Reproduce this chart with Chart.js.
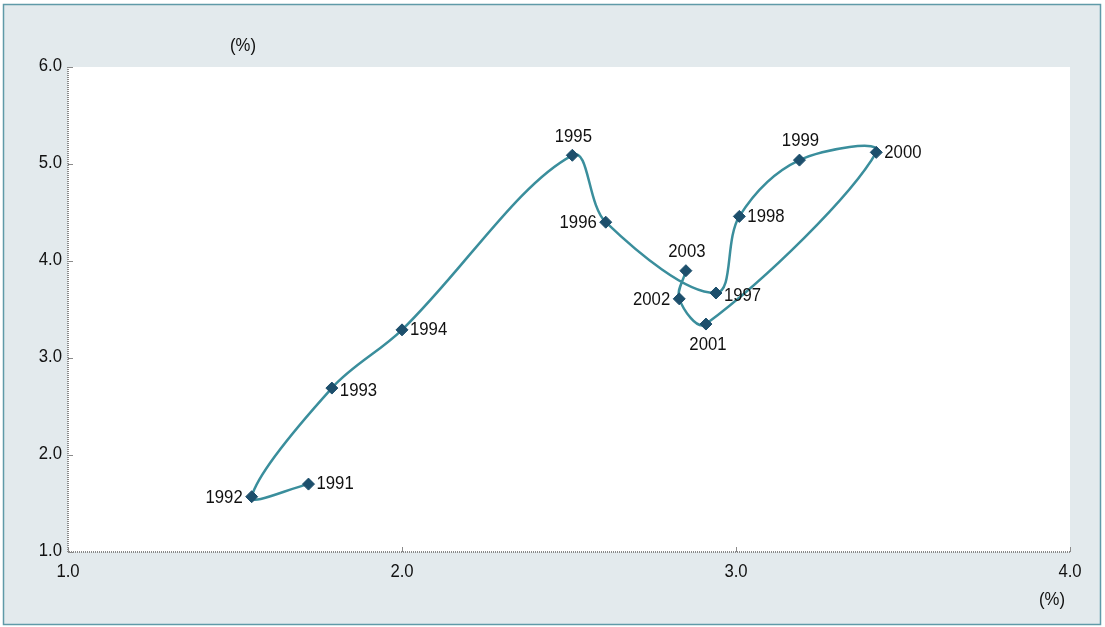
<!DOCTYPE html>
<html>
<head>
<meta charset="utf-8">
<script src="https://cdn.jsdelivr.net/npm/chart.js@4"></script>
<style>
  html, body { margin: 0; padding: 0; background: #ffffff; }
  #wrap { width: 1105px; height: 627px; }
</style>
</head>
<body>
<div id="wrap"><canvas id="chart" width="1105" height="627"></canvas></div>
<script>
// values, years in drawing order
const years = ["1991", "1992", "1993", "1994", "1995", "1996", "1997",
	"1998", "1999", "2000", "2001", "2002", "2003"];
const xValues = [1.72, 1.55, 1.79, 2.00, 2.51, 2.61, 2.94, 3.01, 3.19, 3.42, 2.91, 2.83, 2.85];
const yValues = [1.70, 1.57, 2.69, 3.29, 5.09, 4.40, 3.67, 4.46, 5.04, 5.12, 3.35, 3.61, 3.90];
const xTicks = [1.0, 2.0, 3.0, 4.0];
const yTicks = [1.0, 2.0, 3.0, 4.0, 5.0, 6.0];
// where each year label sits relative to its point
const labelPos = ["right", "left", "rightBelow", "right", "above", "left", "rightBelow",
	"right", "above", "right", "below", "left", "above"];

const FONT = "'Liberation Sans', Arial, sans-serif";
const points = xValues.map((x, i) => ({ x: x, y: yValues[i] }));

// the source uses a slightly condensed face: squeeze Liberation Sans horizontally
function drawText(ctx, text, x, y, align) {
	const sx = 0.88;
	ctx.save();
	ctx.font = "19px " + FONT;
	ctx.fillStyle = "#111111";
	ctx.textAlign = align;
	ctx.textBaseline = "middle";
	ctx.translate(x, y);
	ctx.scale(sx, 1);
	ctx.fillText(text, 0, 0);
	ctx.restore();
}

const framePlugin = {
	id: "frame",
	beforeDraw(chart) {
		const ctx = chart.ctx;
		const a = chart.chartArea;
		ctx.save();
		ctx.fillStyle = "#ffffff";
		ctx.fillRect(0, 0, chart.width, chart.height);
		ctx.fillStyle = "#e3eaed";
		ctx.fillRect(3, 4, 1098, 621);
		ctx.strokeStyle = "#5f9aa8";
		ctx.lineWidth = 1.5;
		ctx.strokeRect(3.5, 4.5, 1097, 620);
		ctx.fillStyle = "#ffffff";
		ctx.fillRect(a.left, a.top, a.right - a.left, a.bottom - a.top);
		ctx.restore();
	},
	afterDatasetsDraw(chart) {
		const ctx = chart.ctx;
		const a = chart.chartArea;
		const xs = chart.scales.x, ys = chart.scales.y;
		ctx.save();
		// dotted axis lines
		ctx.strokeStyle = "#8a8a8a";
		ctx.lineWidth = 2;
		ctx.setLineDash([1, 1]);
		ctx.beginPath();
		ctx.moveTo(a.left, a.top);
		ctx.lineTo(a.left, a.bottom);
		ctx.lineTo(a.right, a.bottom);
		ctx.stroke();
		ctx.setLineDash([]);
		ctx.lineWidth = 1;
		ctx.beginPath();
		yTicks.forEach(v => {
			const py = Math.round(ys.getPixelForValue(v)) + 0.5;
			ctx.moveTo(a.left, py);
			ctx.lineTo(a.left + 5, py);
		});
		xTicks.forEach(v => {
			const px = Math.round(xs.getPixelForValue(v)) + 0.5;
			ctx.moveTo(px, a.bottom);
			ctx.lineTo(px, a.bottom - 5);
		});
		ctx.stroke();
		ctx.restore();

		// tick labels
		yTicks.forEach(v => drawText(ctx, v.toFixed(1), a.left - 6, ys.getPixelForValue(v) - 1, "right"));
		xTicks.forEach(v => drawText(ctx, v.toFixed(1), xs.getPixelForValue(v), a.bottom + 20, "center"));

		// year labels
		const meta = chart.getDatasetMeta(0);
		meta.data.forEach((el, i) => {
			const pos = labelPos[i];
			let tx = el.x, ty = el.y, align = "left";
			if (pos === "right") { tx += 8; ty += 0; }
			else if (pos === "left") { align = "right"; tx -= 9; ty += 1; }
			else if (pos === "rightBelow") { tx += 8; ty += 3; }
			else if (pos === "above") { align = "center"; tx += 1; ty -= 19; }
			else if (pos === "below") { align = "center"; tx += 2; ty += 21; }
			drawText(ctx, years[i], tx, ty, align);
		});

		// unit labels
		drawText(ctx, "(%)", 243, 46, "center");
		drawText(ctx, "(%)", 1052, 600, "center");
	}
};

new Chart(document.getElementById("chart"), {
	type: "scatter",
	data: {
		datasets: [{
			data: points,
			showLine: true,
			tension: 0.35,
			borderColor: "#3a8e9c",
			borderWidth: 2.5,
			pointStyle: "rectRot",
			pointRadius: 6,
			pointBackgroundColor: "#1d4f6c",
			pointBorderColor: "#1d4f6c",
			pointBorderWidth: 1,
			clip: false
		}]
	},
	options: {
		responsive: false,
		animation: false,
		layout: { padding: { left: 0, top: 67, right: 35, bottom: 0 } },
		plugins: {
			legend: { display: false },
			tooltip: { enabled: false }
		},
		scales: {
			x: {
				type: "linear",
				min: 1, max: 4,
				afterBuildTicks: s => { s.ticks = xTicks.map(v => ({ value: v })); },
				afterFit: s => { s.height = 75; },
				grid: { display: false, drawTicks: false },
				border: { display: false },
				ticks: { display: false }
			},
			y: {
				type: "linear",
				min: 1, max: 6,
				afterBuildTicks: s => { s.ticks = yTicks.map(v => ({ value: v })); },
				afterFit: s => { s.width = 68; },
				grid: { display: false, drawTicks: false },
				border: { display: false },
				ticks: { display: false }
			}
		}
	},
	plugins: [framePlugin]
});
</script>
</body>
</html>
